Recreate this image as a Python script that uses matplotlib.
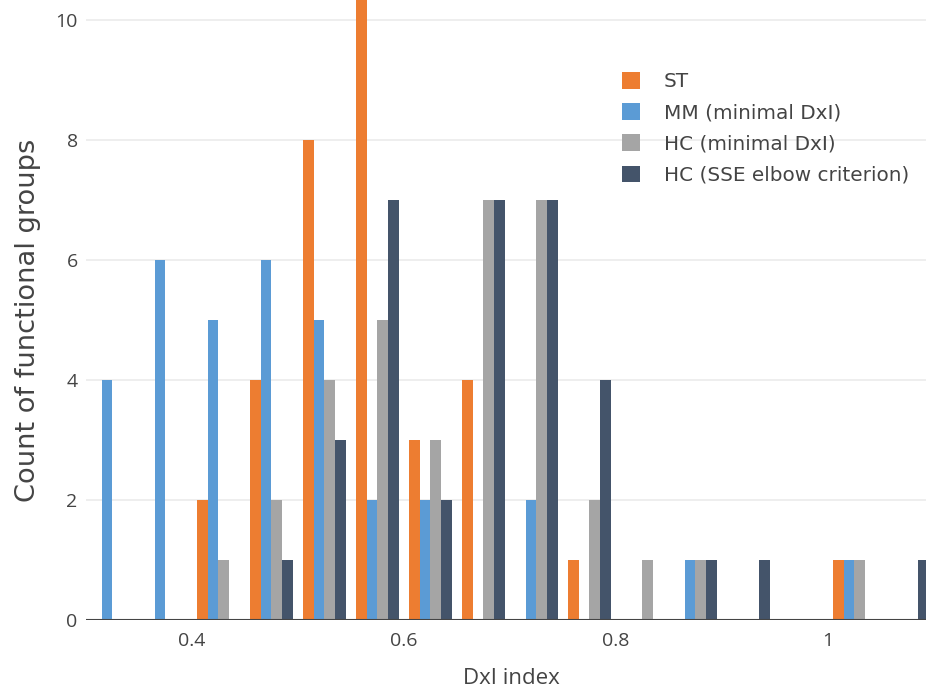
import numpy as np
import matplotlib
matplotlib.use('Agg')
import matplotlib.pyplot as plt
from matplotlib.patches import Rectangle

# bin centres of the DxI histogram (bin width 0.05)
bins = [0.325, 0.375, 0.425, 0.475, 0.525, 0.575, 0.625, 0.675,
        0.725, 0.775, 0.825, 0.875, 0.925, 0.975, 1.025, 1.075]

st = [0, 0, 2, 4, 8, 11, 3, 4, 0, 1, 0, 0, 0, 0, 1, 0]
mm = [4, 6, 5, 6, 5, 2, 2, 0, 2, 0, 0, 1, 0, 0, 1, 0]
hc = [0, 0, 1, 2, 4, 5, 3, 7, 7, 2, 1, 1, 0, 0, 1, 0]
hc_elbow = [0, 0, 0, 1, 3, 7, 2, 7, 7, 4, 0, 1, 1, 0, 0, 1]

labels = ['ST', 'MM (minimal DxI)', 'HC (minimal DxI)', 'HC (SSE elbow criterion)']
colors = ['#ED7D31', '#5B9BD5', '#A5A5A5', '#44546A']

fig = plt.figure(figsize=(9.26, 6.9), dpi=100)
ax = fig.add_axes([86 / 926, 1 - 620 / 690, 1 - 86 / 926, 620 / 690])

x = np.array(bins)
w = 0.01
for i, (vals, lab, col) in enumerate(zip([st, mm, hc, hc_elbow], labels, colors)):
    ax.bar(x + (i - 1.5) * w, vals, width=w, color=col, label=lab, zorder=2)

ax.set_xlim(0.3, 1.0925)
ax.set_ylim(0, 10.333)
ax.set_xticks([0.4, 0.6, 0.8, 1.0])
ax.set_xticklabels(['0.4', '0.6', '0.8', '1'])
ax.set_yticks([0, 2, 4, 6, 8, 10])

ax.grid(axis='y', color='#ebebeb', linewidth=1.2, zorder=0)
for s in ax.spines.values():
    s.set_visible(False)
ax.axhline(0, color='#444444', linewidth=1.5, zorder=3)
ax.tick_params(length=0, labelsize=14, labelcolor='#444444')
ax.tick_params(axis='x', pad=9)
ax.tick_params(axis='y', pad=6)
for t in ax.get_xticklabels() + ax.get_yticklabels():
    t.set_fontfamily('Open Sans')

fig.text(463 / 926, 1 - 678 / 690, 'DxI index', fontsize=16, color='#444444',
         family='Open Sans', ha='left', va='center')
fig.text(28 / 926, 1 - 320 / 690, 'Count of functional groups', fontsize=19.6,
         color='#444444', family='DejaVu Sans', rotation=90, ha='center', va='center')

# white legend background (covers the gridline like the original)
ax.add_patch(Rectangle((598 / 926, 1 - 192 / 690), 305 / 926, 130 / 690,
                       transform=fig.transFigure, facecolor='white',
                       edgecolor='none', zorder=1))

leg = ax.legend(loc='upper left', bbox_to_anchor=(598 / 926, 1 - 48 / 690),
                bbox_transform=fig.transFigure, frameon=False,
                prop={'family': 'DejaVu Sans', 'size': 14.4},
                handlelength=0.9, handleheight=0.9, handletextpad=1.2,
                labelspacing=0.6, borderpad=1.2, borderaxespad=0)
for t in leg.get_texts():
    t.set_color('#444444')

fig.savefig('out.png', dpi=100)
